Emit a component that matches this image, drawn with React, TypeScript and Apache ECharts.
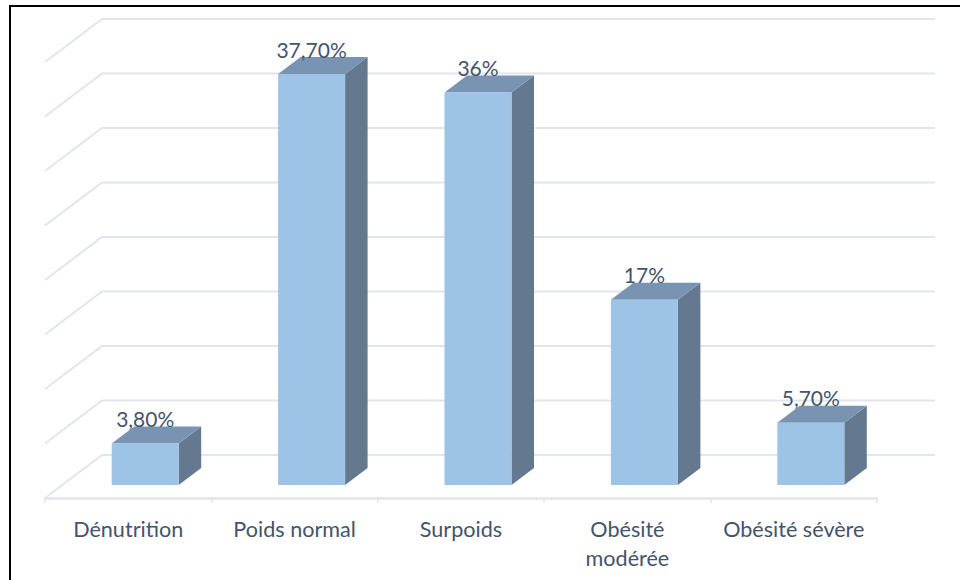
import React, { useEffect, useRef } from "react";
import * as echarts from "echarts";

const categories = ["Dénutrition", "Poids normal", "Surpoids", "Obésité\nmodérée", "Obésité sévère"];
const values = [3.8, 37.7, 36, 17, 5.7];
const valueLabels = ["3,80%", "37,70%", "36%", "17%", "5,70%"];
const gridTicks = [0, 5, 10, 15, 20, 25, 30, 35, 40];

const TEXT = "#44546a";
const GRID_LINE = "#e2e5ee";
const FONT = "Lato, Carlito, sans-serif";

// Oblique offsets of the 3D box, measured from the front edge of the floor.
const WALL = { dx: 57, dy: -43 };
const BAR_FRONT = { dx: 17, dy: -13 };
const BAR_DEPTH = { dx: 22.5, dy: -17 };
const BAR_WIDTH = 67;
const AXIS_FONT_SIZE = 21.6;
const VALUE_FONT_SIZE = 21;

export default function App() {
  const ref = useRef<HTMLDivElement>(null);

  useEffect(() => {
    const chart = echarts.init(ref.current!, undefined, { renderer: "svg" });
    chart.setOption({
      animation: false,
      backgroundColor: "#ffffff",
      textStyle: { fontFamily: FONT },
      grid: { left: 45, width: 832, top: 62, height: 436 },
      xAxis: {
        type: "category",
        data: categories,
        boundaryGap: true,
        axisLine: { show: true, lineStyle: { color: GRID_LINE, width: 2.5 } },
        axisTick: { show: true, length: 5, lineStyle: { color: GRID_LINE, width: 1.5 } },
        axisLabel: {
          color: TEXT,
          fontFamily: FONT,
          fontSize: AXIS_FONT_SIZE,
          lineHeight: 29,
          margin: 16,
          interval: 0,
        },
      },
      yAxis: {
        type: "value",
        min: 0,
        max: 40,
        interval: 5,
        axisLine: { show: false },
        axisTick: { show: false },
        axisLabel: { show: false },
        splitLine: { show: false },
      },
      graphic: [
        {
          type: "polyline",
          silent: true,
          shape: { points: [[10, 580], [10, 6], [960, 6]] },
          style: { stroke: "#000000", lineWidth: 2, fill: "none" },
        },
      ],
      series: [
        {
          // Back wall lines with their diagonal return down the side wall.
          type: "custom",
          z: 1,
          silent: true,
          data: gridTicks.map((t) => [0, t]),
          encode: { x: 0, y: 1 },
          renderItem: (params: any, api: any) => {
            const y = api.coord([0, api.value(1)])[1];
            const x0 = params.coordSys.x;
            const x1 = x0 + params.coordSys.width;
            return {
              type: "polyline",
              shape: {
                points: [
                  [x0, y],
                  [x0 + WALL.dx, y + WALL.dy],
                  [x1 + WALL.dx + 1, y + WALL.dy],
                ],
              },
              style: { stroke: GRID_LINE, lineWidth: 2, fill: "none" },
            };
          },
        },
        {
          // Each bar is a front face, a top face and a side face.
          type: "custom",
          z: 2,
          silent: true,
          data: values.map((v, i) => [i, v]),
          encode: { x: 0, y: 1 },
          renderItem: (params: any, api: any) => {
            const i = api.value(0);
            const top = api.coord([i, api.value(1)]);
            const base = api.coord([i, 0]);
            const xl = top[0] + BAR_FRONT.dx - BAR_WIDTH / 2;
            const xr = xl + BAR_WIDTH;
            const yt = top[1] + BAR_FRONT.dy;
            const yb = base[1] + BAR_FRONT.dy;
            const { dx, dy } = BAR_DEPTH;
            return {
              type: "group",
              children: [
                {
                  type: "polygon",
                  shape: { points: [[xr, yt], [xr + dx, yt + dy], [xr + dx, yb + dy], [xr, yb]] },
                  style: { fill: "#64798f" },
                },
                {
                  type: "polygon",
                  shape: { points: [[xl, yt], [xl + dx, yt + dy], [xr + dx, yt + dy], [xr, yt]] },
                  style: { fill: "#7994b2" },
                },
                {
                  type: "rect",
                  shape: { x: xl, y: yt, width: BAR_WIDTH, height: yb - yt },
                  style: { fill: "#9dc3e6" },
                },
                {
                  type: "text",
                  z2: 10,
                  style: {
                    x: (xl + xr) / 2,
                    y: yt - 25,
                    text: valueLabels[i],
                    fill: TEXT,
                    fontFamily: FONT,
                    fontSize: VALUE_FONT_SIZE,
                    textAlign: "center",
                    textVerticalAlign: "middle",
                  },
                },
              ],
            };
          },
        },
      ],
    });
    return () => chart.dispose();
  }, []);

  return <div ref={ref} style={{ position: "absolute", left: 0, top: 0, width: 960, height: 580 }} />;
}
